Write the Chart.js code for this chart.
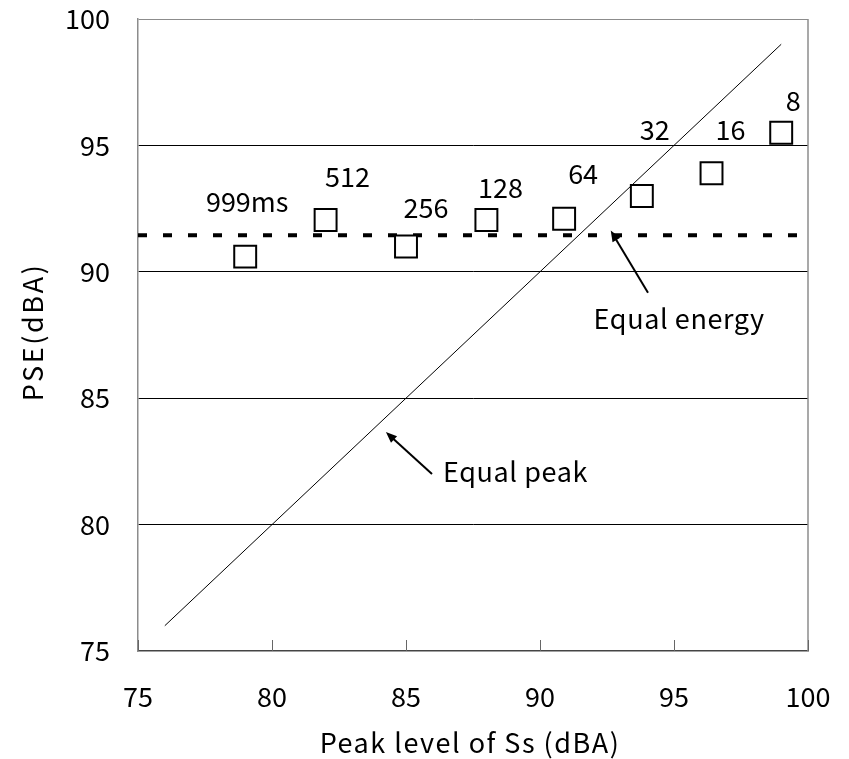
<!DOCTYPE html>
<html>
<head>
<meta charset="utf-8">
<script src="https://cdn.jsdelivr.net/npm/chart.js@4"></script>
<style>
html,body{margin:0;padding:0;background:#fff;}
#wrap{width:849px;height:759px;position:relative;}
</style>
</head>
<body>
<div id="wrap"><canvas id="c" width="849" height="759"></canvas></div>
<script>
// ---- data ----
const durations = ['999ms', '512', '256', '128', '64', '32', '16', '8'];
const peakLevel = [79.0, 82.0, 85.0, 88.0, 90.9, 93.8, 96.4, 99.0];
const pse = [90.6, 92.05, 91.0, 92.05, 92.1, 93.0, 93.9, 95.5];
const equalPeakX = [76, 99];
const equalPeakY = [76, 99];
const equalEnergyX = [75, 100];
const equalEnergyY = [91.45, 91.45];
const xTickValues = [75, 80, 85, 90, 95, 100];
const yTickValues = [75, 80, 85, 90, 95, 100];
const xTitle = 'Peak level of Ss (dBA)';
const yTitle = 'PSE(dBA)';

// ---- layout / style (not data) ----
const FONT = '"Noto Sans CJK JP", "Noto Sans", sans-serif';
const FS = 27;
const labelOffsets = [[2,-55],[22,-43],[20,-39],[14,-32],[19,-45],[13,-66],[19,-43],[12,-32]];
const notes = [
  {text:'Equal energy', tx:92.0, ty:87.74, from:[94.03,89.17], to:[92.64,91.63]},
  {text:'Equal peak',  tx:86.38, ty:81.68, from:[85.97,82.0], to:[84.25,83.66]}
];

const pts = (xs, ys) => xs.map((x, i) => ({x, y: ys[i]}));

const decor = {
  id: 'decor',
  beforeDatasetsDraw(chart) {
    const {ctx, chartArea: a, scales: {x}} = chart;
    ctx.save();
    ctx.strokeStyle = '#8c8c8c';
    ctx.lineWidth = 1.5;
    ctx.beginPath();
    ctx.moveTo(a.right, a.top); ctx.lineTo(a.right, a.bottom);
    ctx.stroke();
    ctx.strokeStyle = '#666';
    ctx.lineWidth = 1;
    xTickValues.forEach(v => {
      const px = Math.round(x.getPixelForValue(v)) + 0.5;
      ctx.beginPath();
      ctx.moveTo(px, a.bottom); ctx.lineTo(px, a.bottom - 11);
      ctx.stroke();
    });
    ctx.restore();
  },
  afterDatasetsDraw(chart) {
    const {ctx, chartArea: a, scales: {x, y}} = chart;
    ctx.save();
    ctx.fillStyle = '#000';
    ctx.font = FS + 'px ' + FONT;
    ctx.textAlign = 'center';
    ctx.textBaseline = 'middle';
    durations.forEach((t, i) => {
      const px = x.getPixelForValue(peakLevel[i]) + labelOffsets[i][0];
      const py = y.getPixelForValue(pse[i]) + labelOffsets[i][1];
      ctx.fillText(t, px, py);
    });
    ctx.letterSpacing = '0.6px';
    notes.forEach(n => {
      ctx.textAlign = 'left';
      ctx.textBaseline = 'alphabetic';
      ctx.fillText(n.text, x.getPixelForValue(n.tx), y.getPixelForValue(n.ty));
      const x1 = x.getPixelForValue(n.from[0]), y1 = y.getPixelForValue(n.from[1]);
      const x2 = x.getPixelForValue(n.to[0]), y2 = y.getPixelForValue(n.to[1]);
      const ang = Math.atan2(y2 - y1, x2 - x1);
      const hl = 11, hw = 4.5;
      ctx.strokeStyle = '#000';
      ctx.lineWidth = 2;
      ctx.beginPath();
      ctx.moveTo(x1, y1);
      ctx.lineTo(x2 - Math.cos(ang) * hl * 0.8, y2 - Math.sin(ang) * hl * 0.8);
      ctx.stroke();
      ctx.beginPath();
      ctx.moveTo(x2, y2);
      ctx.lineTo(x2 - Math.cos(ang) * hl + Math.sin(ang) * hw, y2 - Math.sin(ang) * hl - Math.cos(ang) * hw);
      ctx.lineTo(x2 - Math.cos(ang) * hl - Math.sin(ang) * hw, y2 - Math.sin(ang) * hl + Math.cos(ang) * hw);
      ctx.closePath();
      ctx.fill();
    });
    // axis titles
    ctx.textAlign = 'center';
    ctx.textBaseline = 'alphabetic';
    ctx.letterSpacing = '1.5px';
    ctx.fillText(xTitle, (a.left + a.right) / 2 - 3, 753);
    ctx.translate(43, (a.top + a.bottom) / 2 - 3);
    ctx.rotate(-Math.PI / 2);
    ctx.letterSpacing = '2.6px';
    ctx.fillText(yTitle, 0, 0);
    ctx.restore();
  }
};

new Chart(document.getElementById('c'), {
  type: 'scatter',
  data: {
    datasets: [
      {
        label: 'PSE',
        data: pts(peakLevel, pse),
        pointStyle: 'rect',
        pointRadius: 15.5,
        pointHoverRadius: 15.5,
        pointBorderWidth: 2,
        pointBorderColor: '#000',
        pointBackgroundColor: '#fff',
        showLine: false
      },
      {
        label: 'Equal energy',
        data: pts(equalEnergyX, equalEnergyY),
        showLine: true,
        borderColor: '#000',
        borderWidth: 4,
        borderDash: [9, 16],
        pointRadius: 0
      },
      {
        label: 'Equal peak',
        data: pts(equalPeakX, equalPeakY),
        showLine: true,
        borderColor: '#000',
        borderWidth: 1,
        pointRadius: 0
      }
    ]
  },
  options: {
    responsive: false,
    animation: false,
    events: [],
    layout: {padding: {top: 19, right: 41, left: 0, bottom: 0}},
    plugins: {legend: {display: false}, tooltip: {enabled: false}},
    scales: {
      x: {
        type: 'linear', min: 75, max: 100,
        afterBuildTicks: s => { s.ticks = xTickValues.map(v => ({value: v})); },
        afterFit: s => { s.height = 108; },
        grid: {display: true, drawOnChartArea: false, drawTicks: true, tickLength: 30, tickColor: 'rgba(0,0,0,0)'},
        border: {display: true, color: '#444', width: 1.5},
        ticks: {padding: 0, color: '#000', font: {family: FONT, size: FS}, maxRotation: 0},
        title: {display: false}
      },
      y: {
        type: 'linear', min: 75, max: 100,
        afterBuildTicks: s => { s.ticks = yTickValues.map(v => ({value: v})); },
        afterFit: s => { s.width = 138; },
        grid: {
          drawTicks: true,
          tickLength: 28,
          tickColor: 'rgba(0,0,0,0)',
          color: c => c.tick.value === 100 ? '#8c8c8c' : (c.tick.value === 75 ? 'rgba(0,0,0,0)' : '#000'),
          lineWidth: 1
        },
        border: {display: true, color: '#8c8c8c', width: 1.5},
        ticks: {padding: 0, color: '#000', font: {family: FONT, size: FS}},
        title: {display: false}
      }
    }
  },
  plugins: [decor]
});
</script>
</body>
</html>
